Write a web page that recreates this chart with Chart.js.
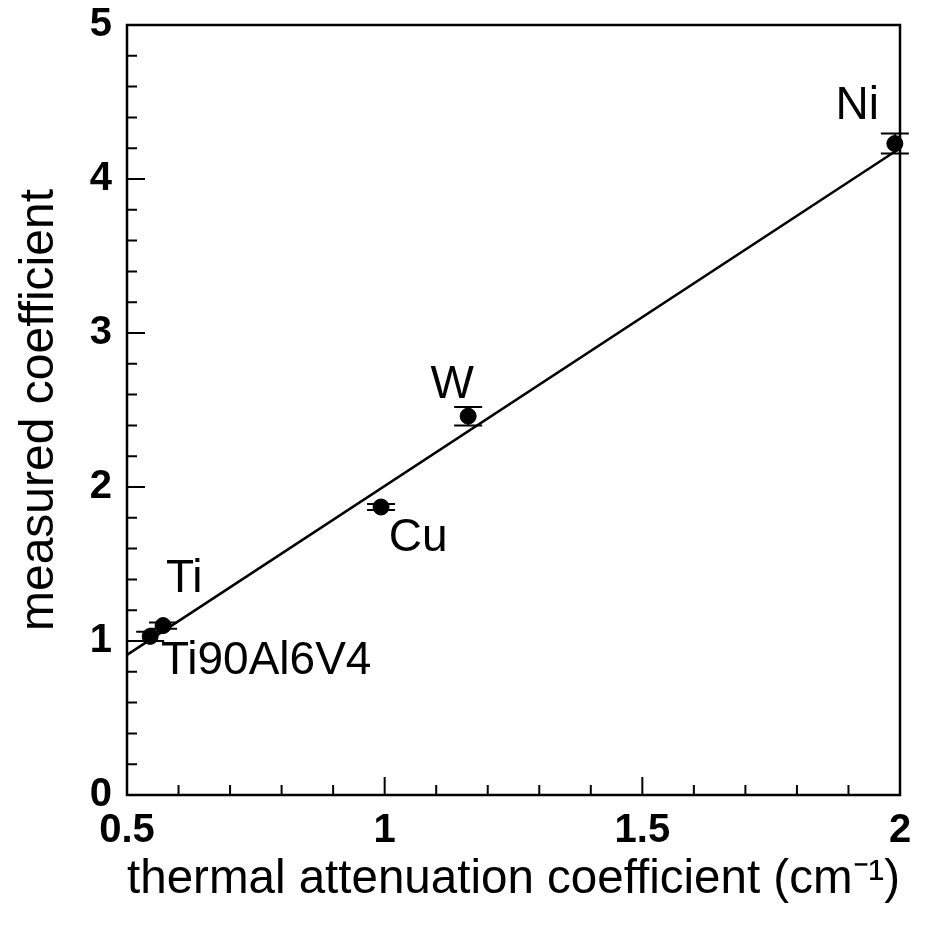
<!DOCTYPE html>
<html>
<head>
<meta charset="utf-8">
<script src="https://cdn.jsdelivr.net/npm/chart.js@4/dist/chart.umd.min.js"></script>
<style>
  html, body { margin: 0; background: #fff; }
  #wrap { width: 929px; height: 935px; }
</style>
</head>
<body>
<div id="wrap"><canvas id="chart"></canvas></div>
<script>
// data
const materials = ['Ti90Al6V4', 'Ti', 'Cu', 'W', 'Ni']
const thermalCoef = [0.545, 0.57, 0.993, 1.162, 1.99]
const measuredCoef = [1.03, 1.10, 1.87, 2.46, 4.23]
const measuredErr = [0.03, 0.02, 0.02, 0.06, 0.065]
// where each material name sits (data units)
const labelX = [0.77, 0.611, 1.065, 1.131, 1.917]
const labelY = [0.87, 1.40, 1.67, 2.66, 4.47]
// fitted line
const fitX = [0.5, 2]
const fitY = [0.91, 4.20]
const xTicks = [0.5, 1, 1.5, 2]
const yTicks = [0, 1, 2, 3, 4, 5]

const FONT = '"Liberation Sans", Arial, sans-serif'

const decor = {
  id: 'decor',
  afterDatasetsDraw(chart) {
    const { ctx, chartArea: a, scales: { x, y } } = chart
    ctx.save()
    ctx.strokeStyle = '#000'
    ctx.fillStyle = '#000'

    // frame
    ctx.lineWidth = 2.5
    ctx.strokeRect(a.left, a.top, a.right - a.left, a.bottom - a.top)

    // inward ticks, left and bottom only
    ctx.lineWidth = 2
    ctx.beginPath()
    for (let i = 0; i <= 25; i++) {
      const py = y.getPixelForValue(i * 0.2)
      const len = i % 5 === 0 ? 18 : 10
      ctx.moveTo(a.left, py)
      ctx.lineTo(a.left + len, py)
    }
    for (let i = 5; i <= 20; i++) {
      const px = x.getPixelForValue(i / 10)
      const len = i % 5 === 0 ? 18 : 10
      ctx.moveTo(px, a.bottom)
      ctx.lineTo(px, a.bottom - len)
    }
    ctx.stroke()

    // error bars
    ctx.lineWidth = 2
    ctx.beginPath()
    thermalCoef.forEach((xv, i) => {
      const px = x.getPixelForValue(xv)
      const lo = y.getPixelForValue(measuredCoef[i] - measuredErr[i])
      const hi = y.getPixelForValue(measuredCoef[i] + measuredErr[i])
      ctx.moveTo(px, lo); ctx.lineTo(px, hi)
      ctx.moveTo(px - 14, lo); ctx.lineTo(px + 14, lo)
      ctx.moveTo(px - 14, hi); ctx.lineTo(px + 14, hi)
    })
    ctx.stroke()

    // material names
    ctx.font = '46px ' + FONT
    ctx.textAlign = 'center'
    ctx.textBaseline = 'middle'
    materials.forEach((m, i) => {
      ctx.fillText(m, x.getPixelForValue(labelX[i]), y.getPixelForValue(labelY[i]))
    })
    ctx.restore()
  }
}

new Chart(document.getElementById('chart'), {
  type: 'scatter',
  data: {
    datasets: [
      {
        data: fitX.map((v, i) => ({ x: v, y: fitY[i] })),
        showLine: true,
        borderColor: '#000',
        borderWidth: 2.5,
        pointRadius: 0,
      },
      {
        data: thermalCoef.map((v, i) => ({ x: v, y: measuredCoef[i] })),
        backgroundColor: '#000',
        borderColor: '#000',
        pointRadius: 8,
      },
    ],
  },
  options: {
    responsive: true,
    maintainAspectRatio: false,
    animation: false,
    clip: false,
    layout: { padding: { top: 25, right: 29, left: 0, bottom: 0 } },
    plugins: { legend: { display: false }, tooltip: { enabled: false } },
    scales: {
      x: {
        type: 'linear',
        min: 0.5,
        max: 2,
        afterBuildTicks: s => { s.ticks = xTicks.map(v => ({ value: v })) },
        afterFit: s => { s.height = 140; s.paddingLeft = 0; s.paddingRight = 0 },
        grid: { display: false, drawTicks: false },
        border: { display: false },
        ticks: {
          color: '#000',
          padding: 12,
          maxRotation: 0,
          font: { family: FONT, size: 40, weight: 'bold' },
          callback: v => String(v),
        },
        title: {
          display: true,
          text: 'thermal attenuation coefficient (cm\u207B\u00B9)',
          color: '#000',
          font: { family: FONT, size: 48 },
          padding: { top: 0, bottom: 26 },
        },
      },
      y: {
        type: 'linear',
        min: 0,
        max: 5,
        afterBuildTicks: s => { s.ticks = yTicks.map(v => ({ value: v })) },
        afterFit: s => { s.width = 127; s.paddingTop = 0; s.paddingBottom = 0 },
        grid: { display: false, drawTicks: false },
        border: { display: false },
        ticks: {
          color: '#000',
          padding: 15,
          font: { family: FONT, size: 40, weight: 'bold' },
        },
        title: {
          display: true,
          text: 'measured coefficient',
          color: '#000',
          font: { family: FONT, size: 48 },
          padding: { top: 11, bottom: 0 },
        },
      },
    },
  },
  plugins: [decor],
})
</script>
</body>
</html>
